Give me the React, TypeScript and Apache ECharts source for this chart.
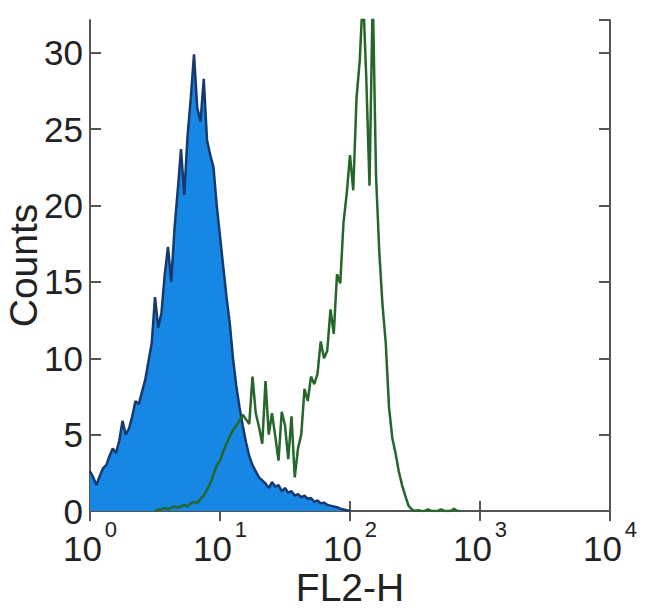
import React, { useEffect, useRef } from "react";
import * as echarts from "echarts";

// Histogram channel grid (log10 of FL2-H), step between bins
const BIN_STEP = 0.025;

// Isotype / unstained control (filled blue), bins starting at 10^0
const BLUE_START_EXP = 0;
const blueCounts = [
  2.6, 2.2, 1.7, 2.3, 2.8, 3.0, 3.6, 4.1, 3.8, 4.6,
  5.9, 5.0, 5.4, 6.2, 7.2, 7.0, 7.8, 8.6, 9.8, 11.0,
  14.0, 12.0, 13.0, 15.5, 17.3, 15.0, 18.5, 21.0, 23.7, 20.7,
  24.5, 27.0, 29.9, 26.4, 25.5, 28.3, 24.3, 23.3, 22.5, 20.0,
  18.0, 16.0, 14.0, 12.3, 10.0, 8.2, 6.8, 5.6, 4.5, 3.6,
  3.0, 2.6, 2.2, 2.0, 1.8, 1.5, 1.9, 1.6, 1.7, 1.3,
  1.5, 1.2, 1.3, 1.0, 1.1, 0.9, 1.0, 0.8, 0.85, 0.6,
  0.7, 0.5, 0.55, 0.4, 0.35, 0.3, 0.25, 0.15, 0.1, 0.05,
  0,
];

// Stained sample (green outline), bins starting at 10^0.5
const GREEN_START_EXP = 0.5;
const greenCounts = [
  0, 0.1, 0.1, 0.2, 0.1, 0.2, 0.3, 0.2, 0.3, 0.4,
  0.3, 0.5, 0.6, 0.5, 0.8, 1.0, 1.4, 1.8, 2.4, 3.0,
  3.3, 3.9, 4.4, 4.9, 5.3, 5.6, 5.9, 6.3, 6.0, 5.7,
  8.8, 6.4, 5.5, 4.4, 8.5, 5.0, 6.4, 4.9, 3.3, 6.5,
  5.6, 3.4, 6.2, 2.2, 4.1, 5.0, 8.0, 7.2, 8.8, 8.3,
  9.0, 11.1, 10.0, 10.5, 13.2, 11.6, 15.5, 14.9, 18.9, 20.8,
  23.3, 21.0, 27.0, 29.5, 34.0, 28.4, 21.3, 34.0, 22.0, 17.0,
  13.5, 11.0, 6.8, 4.8, 3.8, 2.6, 1.7, 1.0, 0.35, 0.1,
  0, 0.05, 0, 0, 0.1, 0, 0, 0, 0.1, 0,
  0, 0, 0.15, 0, 0,
];

const xMin = 1;
const xMax = 10000;
const yMax = 32.15;
const yTickStep = 5;

const FONT = "'Liberation Sans', Arial, Helvetica, sans-serif";

function toPoints(startExp: number, counts: number[]) {
  return counts.map((c, i) => [Math.pow(10, startExp + i * BIN_STEP), c]);
}

export default function App() {
  const ref = useRef<HTMLDivElement>(null);

  useEffect(() => {
    if (!ref.current) return;
    const chart = echarts.init(ref.current, null, { renderer: "svg" });

    const axisLineStyle = { color: "#555", width: 2 };
    const logAxisBase = {
      type: "log" as const,
      logBase: 10,
      min: xMin,
      max: xMax,
      splitNumber: 4,
      splitLine: { show: false },
      minorTick: { show: false },
      axisLine: { show: true, lineStyle: axisLineStyle },
      axisTick: { show: true, inside: true, length: 10, lineStyle: axisLineStyle },
    };
    const valAxisBase = {
      type: "value" as const,
      min: 0,
      max: yMax,
      interval: yTickStep,
      splitLine: { show: false },
      axisLine: { show: true, lineStyle: axisLineStyle },
      axisTick: { show: true, inside: true, length: 11, lineStyle: axisLineStyle },
    };

    chart.setOption({
      animation: false,
      backgroundColor: "#ffffff",
      grid: {
        left: 90,
        right: 40,
        top: 20,
        bottom: 104,
        containLabel: false,
        outerBoundsMode: "none",
      },
      xAxis: [
        {
          ...logAxisBase,
          position: "bottom",
          name: "FL2-H",
          nameLocation: "middle",
          nameGap: 57,
          nameMoveOverlap: false,
          nameTextStyle: { fontFamily: FONT, fontSize: 39, color: "#222" },
          axisLabel: {
            show: true,
            margin: 7,
            formatter: (v: number) => {
              const e = Math.round(Math.log10(v));
              return `{b|10}{s|${e}}`;
            },
            rich: {
              b: {
                fontFamily: FONT,
                fontSize: 35,
                color: "#222",
                verticalAlign: "bottom",
              },
              s: {
                fontFamily: FONT,
                fontSize: 22,
                color: "#222",
                verticalAlign: "bottom",
                padding: [0, 0, 26, 3],
              },
            },
          },
        },
        {
          ...logAxisBase,
          position: "top",
          axisLabel: { show: false },
        },
      ],
      yAxis: [
        {
          ...valAxisBase,
          position: "left",
          name: "Counts",
          nameLocation: "middle",
          nameGap: 47,
          nameRotate: 90,
          nameMoveOverlap: false,
          nameTextStyle: { fontFamily: FONT, fontSize: 39, color: "#222" },
          axisLabel: {
            show: true,
            margin: 7,
            showMaxLabel: false,
            fontFamily: FONT,
            fontSize: 35,
            color: "#222",
            formatter: (v: number) => (v % yTickStep === 0 ? String(v) : ""),
          },
        },
        {
          ...valAxisBase,
          position: "right",
          axisLabel: { show: false },
        },
      ],
      series: [
        {
          type: "line",
          name: "control",
          xAxisIndex: 0,
          yAxisIndex: 0,
          data: toPoints(BLUE_START_EXP, blueCounts),
          showSymbol: false,
          symbol: "none",
          lineStyle: { color: "#173a6e", width: 2.5 },
          areaStyle: { color: "#1787e6", opacity: 1 },
          z: 2,
        },
        {
          type: "line",
          name: "stained",
          xAxisIndex: 0,
          yAxisIndex: 0,
          data: toPoints(GREEN_START_EXP, greenCounts),
          showSymbol: false,
          symbol: "none",
          lineStyle: { color: "#25662a", width: 2.5 },
          z: 3,
        },
      ],
    });

    return () => chart.dispose();
  }, []);

  return (
    <div
      ref={ref}
      style={{ position: "absolute", left: 0, top: 0, width: 650, height: 615 }}
    />
  );
}
